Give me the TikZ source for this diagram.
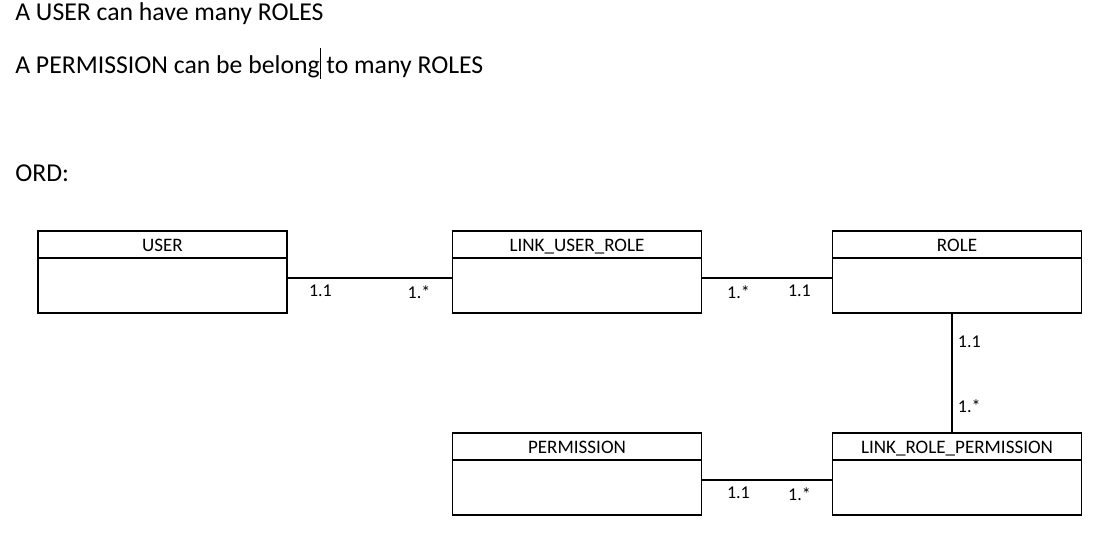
\documentclass[tikz,border=0pt]{standalone}
\usepackage{fontspec}
\setmainfont{Carlito}
\usepackage{tikz}
\usetikzlibrary{positioning,calc}

\begin{document}
\begin{tikzpicture}[x=0.75pt,y=-0.75pt,
    entity/.style={rectangle, draw, line width=0.9pt, inner sep=0pt,
        minimum width=186.75pt, minimum height=61.5pt,
        path picture={\draw[line width=0.9pt] ([yshift=-20.25pt]path picture bounding box.north west) -- ([yshift=-20.25pt]path picture bounding box.north east);}},
    title/.style={anchor=base, inner sep=0pt, font=\fontsize{14.3}{16}\selectfont},
    line/.style={anchor=base west, inner sep=0pt, font=\fontsize{19.3}{22}\selectfont},
    mult/.style={inner sep=1pt, font=\fontsize{13.5}{15}\selectfont},
    link/.style={line width=0.9pt}]
    \useasboundingbox (0,0) rectangle (1120,544);

    % the two sentences and the heading
    \node[line] (rule1) at (15,20) {A USER can have many ROLES};
    \node[line] (rule2) at (15,73) {A PERMISSION can be belong\rule[-0.22em]{0.6pt}{1.2em} to many ROLES};
    \node[line] (ord) at (15,181) {ORD:};

    % tables
    \node[entity] (user) at (162.5,272) {};
    \node[entity] (linkur) at (577,272) {};
    \node[entity] (role) at (957,272) {};
    \node[entity] (perm) at (577,474) {};
    \node[entity] (linkrp) at (957,474) {};

    \node[title] (userT) at ([yshift=-15.75pt]user.north) {USER};
    \node[title] (linkurT) at ([yshift=-15.75pt]linkur.north) {LINK\_USER\_ROLE};
    \node[title] (roleT) at ([yshift=-15.75pt]role.north) {ROLE};
    \node[title] (permT) at ([yshift=-15.75pt]perm.north) {PERMISSION};
    \node[title] (linkrpT) at ([yshift=-15.75pt]linkrp.north) {LINK\_ROLE\_PERMISSION};

    % relations
    \draw[link] ([yshift=-4.5pt]user.east) -- ([yshift=-4.5pt]linkur.west)
        node[mult, below=4pt, pos=0.2] {1.1}
        node[mult, below=4pt, pos=0.8] {1.*};
    \draw[link] ([yshift=-4.5pt]linkur.east) -- ([yshift=-4.5pt]role.west)
        node[mult, below=4pt, pos=0.28] {1.*}
        node[mult, below=4pt, pos=0.75] {1.1};
    \draw[link] ([xshift=-3.75pt]role.south) -- ([xshift=-3.75pt]linkrp.north)
        node[mult, right=3pt, pos=0.24] {1.1}
        node[mult, right=3pt, pos=0.78] {1.*};
    \draw[link] ([yshift=-4.5pt]perm.east) -- ([yshift=-4.5pt]linkrp.west)
        node[mult, below=4pt, pos=0.28] {1.1}
        node[mult, below=4pt, pos=0.75] {1.*};
\end{tikzpicture}
\end{document}
